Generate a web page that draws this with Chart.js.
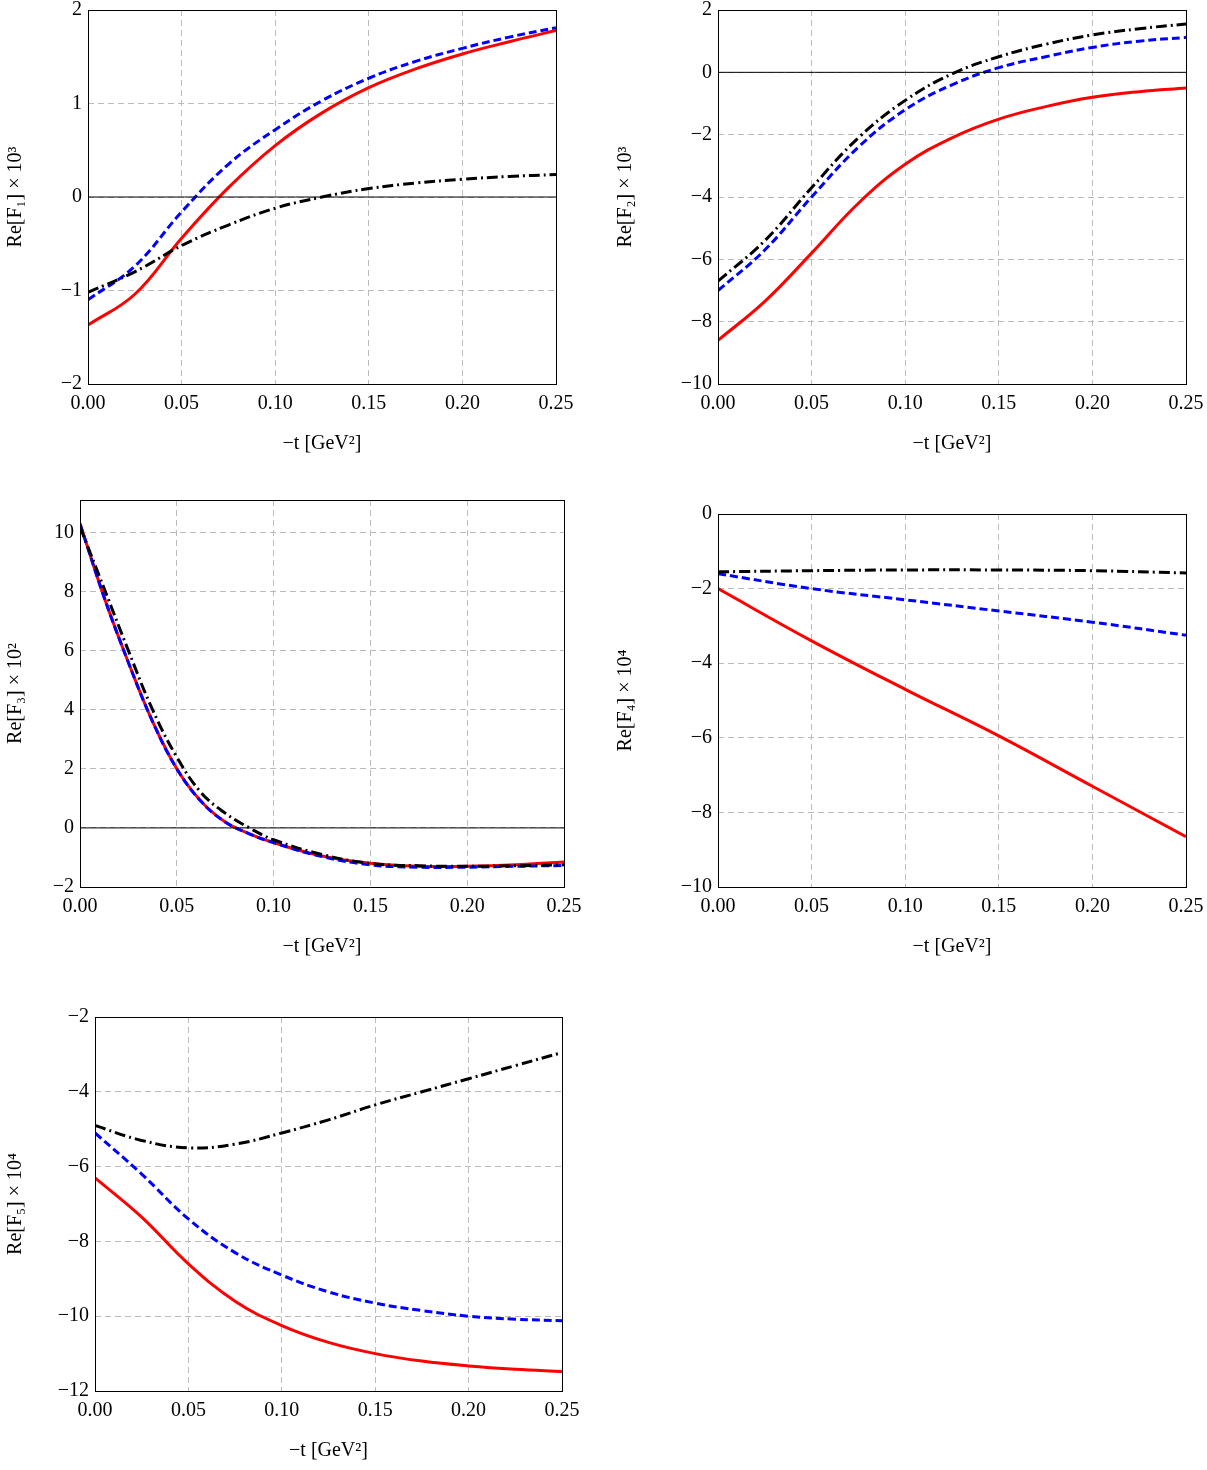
<!DOCTYPE html>
<html>
<head>
<meta charset="utf-8">
<script src="https://cdn.jsdelivr.net/npm/chart.js@4.4.1/dist/chart.umd.min.js"></script>
<style>
  html, body { margin: 0; overflow: hidden; }
  body { background: #fff; width: 1207px; height: 1470px; position: relative; }
  .panel { position: absolute; }
</style>
</head>
<body>
<div class="panel" id="p1" style="left:0;top:-8px;width:590px;height:468px"><canvas id="c1"></canvas></div>
<div class="panel" id="p2" style="left:610px;top:-8px;width:602px;height:468px"><canvas id="c2"></canvas></div>
<div class="panel" id="p3" style="left:0;top:482px;width:590px;height:481px"><canvas id="c3"></canvas></div>
<div class="panel" id="p4" style="left:610px;top:490px;width:602px;height:473px"><canvas id="c4"></canvas></div>
<div class="panel" id="p5" style="left:0;top:990px;width:590px;height:477px"><canvas id="c5"></canvas></div>
<script>
// -t values (GeV^2)
const tGrid = [0, 0.025, 0.05, 0.075, 0.1, 0.125, 0.15, 0.175, 0.2, 0.225, 0.25];
const tFine = [0, 0.0125, 0.025, 0.0375, 0.05, 0.0625, 0.075, 0.0875, 0.1, 0.125, 0.15, 0.175, 0.2, 0.225, 0.25];
const tCoarse = [0, 0.05, 0.1, 0.15, 0.2, 0.25];

// Re[F1] x 10^3
const f1Red   = [-1.37, -1.04, -0.44, 0.1, 0.55, 0.9, 1.17, 1.37, 1.53, 1.66, 1.78];
const f1Blue  = [-1.1, -0.74, -0.16, 0.35, 0.72, 1.03, 1.27, 1.45, 1.59, 1.71, 1.81];
const f1Black = [-1.02, -0.8, -0.52, -0.3, -0.12, 0.0, 0.09, 0.15, 0.19, 0.22, 0.24];

// Re[F2] x 10^3
const f2Red   = [-8.6, -7.35, -5.8, -4.2, -2.95, -2.1, -1.5, -1.1, -0.8, -0.62, -0.5];
const f2Blue  = [-7.0, -5.7, -4.0, -2.4, -1.2, -0.4, 0.15, 0.5, 0.8, 1.0, 1.12];
const f2Black = [-6.7, -5.4, -3.7, -2.1, -0.9, -0.05, 0.5, 0.9, 1.2, 1.4, 1.55];

// Re[F3] x 10^2
const f3Red   = [10.3, 7.8, 5.6, 3.6, 2.0, 0.9, 0.2, -0.2, -0.5, -0.95, -1.2, -1.3, -1.3, -1.25, -1.15];
const f3Blue  = [10.3, 7.8, 5.6, 3.6, 2.0, 0.9, 0.2, -0.2, -0.5, -0.97, -1.25, -1.33, -1.33, -1.3, -1.27];
const f3Black = [10.2, 8.1, 6.0, 4.0, 2.4, 1.2, 0.5, 0.0, -0.4, -0.9, -1.2, -1.28, -1.3, -1.28, -1.25];

// Re[F4] x 10^4
const f4Red   = [-2.0, -3.4, -4.7, -5.95, -7.3, -8.65];
const f4Blue  = [-1.6, -2.0, -2.3, -2.6, -2.9, -3.25];
const f4Black = [-1.55, -1.52, -1.5, -1.5, -1.52, -1.58];

// Re[F5] x 10^4
const f5Red   = [-6.3, -7.35, -8.6, -9.6, -10.25, -10.7, -11.0, -11.2, -11.33, -11.42, -11.48];
const f5Blue  = [-5.1, -6.2, -7.4, -8.3, -8.9, -9.35, -9.65, -9.85, -10.0, -10.08, -10.12];
const f5Black = [-4.9, -5.3, -5.5, -5.4, -5.1, -4.75, -4.35, -4.0, -3.65, -3.3, -2.95];

const FONT = "'Liberation Serif', 'DejaVu Serif', serif";

const frame = {
  id: "frame",
  afterDatasetsDraw(chart) {
    const { ctx, chartArea: a } = chart;
    ctx.save();
    ctx.strokeStyle = "#000";
    ctx.lineWidth = 1;
    ctx.strokeRect(a.left + 0.5, a.top + 0.5, a.right - a.left, a.bottom - a.top);
    ctx.restore();
  },
};

function pts(xs, ys) {
  return xs.map((x, i) => ({ x, y: ys[i] }));
}

function makePanel(id, opts) {
  const { xs, red, blue, black, yMin, yMax, step, title, yw, pad, zero } = opts;
  const datasets = [
    { data: pts(xs, black), borderColor: "#000", borderWidth: 3, borderDash: [11, 4, 2, 4] },
    { data: pts(xs, blue), borderColor: "#0000ff", borderWidth: 3, borderDash: [8, 4] },
    { data: pts(xs, red), borderColor: "#ff0000", borderWidth: 3 },
  ];
  if (zero) datasets.unshift({ data: [{ x: 0, y: 0 }, { x: 0.25, y: 0 }], borderColor: "#000", borderWidth: 1 });
  new Chart(document.getElementById(id), {
    type: "line",
    data: { datasets },
    plugins: [frame],
    options: {
      responsive: true,
      maintainAspectRatio: false,
      animation: false,
      layout: { padding: pad },
      elements: { point: { radius: 0 }, line: { tension: 0.4, fill: false } },
      plugins: { legend: { display: false }, tooltip: { enabled: false } },
      scales: {
        x: {
          type: "linear", min: 0, max: 0.25,
          afterFit(s) { s.height = 76; },
          grid: { color: "#bbb", drawTicks: false },
          border: { display: false, dash: [6, 4] },
          ticks: { stepSize: 0.05, padding: 8, color: "#000", font: { family: FONT, size: 20 }, callback: (v) => v.toFixed(2) },
          title: { display: true, text: "\u2212t [GeV\u00b2]", color: "#000", font: { family: FONT, size: 20 }, padding: { top: 6 } },
        },
        y: {
          min: yMin, max: yMax,
          afterFit(s) { s.width = yw; },
          grid: { color: "#bbb", drawTicks: false },
          border: { display: false, dash: [6, 4] },
          ticks: { stepSize: step, padding: 6, color: "#000", font: { family: FONT, size: 20 },
            callback: (v) => (!Number.isInteger(v) ? "" : v < 0 ? "\u2212" + Math.abs(v) : String(v)) },
          title: { display: true, text: title, color: "#000", font: { family: FONT, size: 20 } },
        },
      },
    },
  });
}

makePanel("c1", { xs: tGrid, red: f1Red, blue: f1Blue, black: f1Black, yMin: -2, yMax: 2, step: 1,
  title: "Re[F\u2081] \u00d7 10\u00b3", yw: 88, pad: { top: 18, right: 34 }, zero: true });
makePanel("c2", { xs: tGrid, red: f2Red, blue: f2Blue, black: f2Black, yMin: -10, yMax: 2, step: 2,
  title: "Re[F\u2082] \u00d7 10\u00b3", yw: 108, pad: { top: 18, right: 26 }, zero: true });
makePanel("c3", { xs: tFine, red: f3Red, blue: f3Blue, black: f3Black, yMin: -2, yMax: 11.1, step: 2,
  title: "Re[F\u2083] \u00d7 10\u00b2", yw: 80, pad: { top: 18, right: 26 }, zero: true });
makePanel("c4", { xs: tCoarse, red: f4Red, blue: f4Blue, black: f4Black, yMin: -10, yMax: 0, step: 2,
  title: "Re[F\u2084] \u00d7 10\u2074", yw: 108, pad: { top: 24, right: 26 }, zero: false });
makePanel("c5", { xs: tGrid, red: f5Red, blue: f5Blue, black: f5Black, yMin: -12, yMax: -2, step: 2,
  title: "Re[F\u2085] \u00d7 10\u2074", yw: 95, pad: { top: 27, right: 28 }, zero: false });
</script>
</body>
</html>
